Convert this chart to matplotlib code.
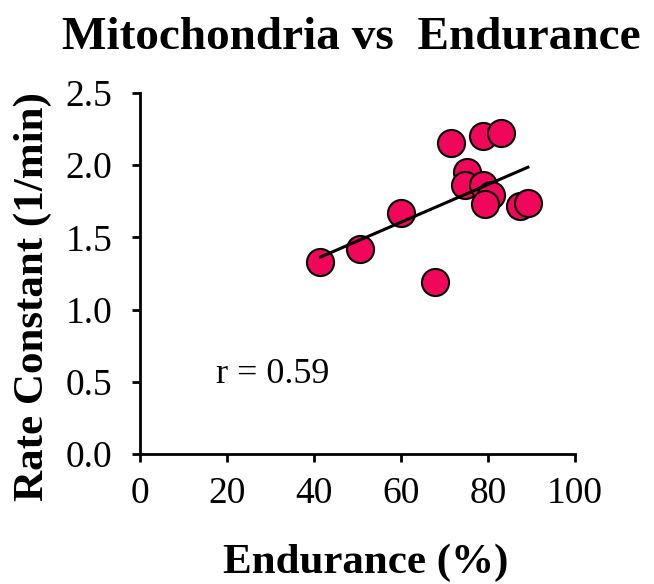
import matplotlib.pyplot as plt
import numpy as np

# data
endurance = [41.5, 50.7, 60.0, 67.8, 71.5, 78.8, 83.1, 75.3, 74.7, 78.9, 80.8, 79.3, 87.3, 89.2]
rate_const = [1.33, 1.42, 1.67, 1.19, 2.15, 2.20, 2.22, 1.95, 1.86, 1.86, 1.79, 1.73, 1.72, 1.74]

# trend line as drawn
fit_slope = 0.01304
fit_intercept = 0.822

x_ticks = [0, 20, 40, 60, 80, 100]
y_ticks = [0.0, 0.5, 1.0, 1.5, 2.0, 2.5]

plt.rcParams['font.family'] = ['Liberation Serif', 'DejaVu Serif']

fig = plt.figure(figsize=(6.54, 5.84), dpi=100)
ax = fig.add_axes([0.214, 0.2226, 0.665, 0.6184])

xs = np.array([min(endurance), max(endurance)])
ax.plot(xs, fit_intercept + fit_slope * xs, color='black', lw=2.2, zorder=3)
ax.scatter(endurance, rate_const, s=380, color='#f0065a', edgecolor='black',
           linewidth=1.5, zorder=2)

ax.set_xlim(0, 100)
ax.set_ylim(0, 2.5)
ax.set_xticks(x_ticks)
ax.set_yticks(y_ticks)
ax.set_xticklabels([str(t) for t in x_ticks])
ax.set_yticklabels(["%.1f" % t for t in y_ticks])
ax.tick_params(labelsize=27, width=2, length=6, direction='out')
ax.tick_params(axis='x', pad=10)
ax.tick_params(axis='y', pad=14)
for s in ['top', 'right']:
    ax.spines[s].set_visible(False)
for s in ['left', 'bottom']:
    ax.spines[s].set_linewidth(2)

ax.text(17.5, 0.55, "r = 0.59", fontsize=26, va='center', ha='left')

fig.text(0.5596, 0.0188, "Endurance (%)", fontsize=31, fontweight='bold',
         ha='center', va='baseline')
fig.text(0.0505, 0.4923, "Rate Constant (1/min)", fontsize=31, fontweight='bold',
         ha='center', va='center', rotation=90)
fig.text(0.537, 0.9156, "Mitochondria vs  Endurance", fontsize=34, fontweight='bold',
         ha='center', va='baseline')

fig.savefig('out.png', dpi=100)
